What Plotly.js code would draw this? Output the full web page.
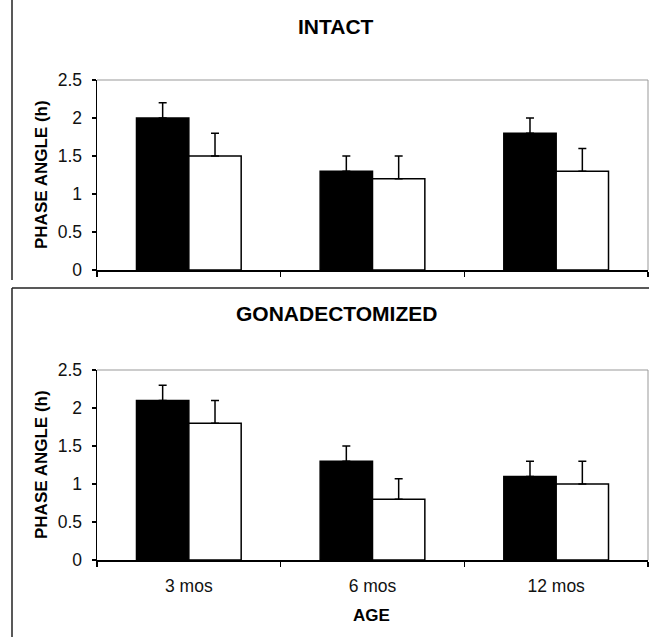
<!DOCTYPE html>
<html>
<head>
<meta charset="utf-8">
<script src="https://cdn.plot.ly/plotly-3.0.1.min.js"></script>
<style>html,body{margin:0;padding:0;background:#fff;}#chart{width:649px;height:637px;}</style>
</head>
<body>
<div id="chart"></div>
<script>
const ages = ['3 mos', '6 mos', '12 mos'];
const yTicks = [0, 0.5, 1, 1.5, 2, 2.5];
const yTickText = ['0', '0.5', '1', '1.5', '2', '2.5'];

const intactBlack = [2.0, 1.3, 1.8];
const intactBlackErr = [0.2, 0.2, 0.2];
const intactWhite = [1.5, 1.2, 1.3];
const intactWhiteErr = [0.3, 0.3, 0.3];

const gdxBlack = [2.1, 1.3, 1.1];
const gdxBlackErr = [0.2, 0.2, 0.2];
const gdxWhite = [1.8, 0.8, 1.0];
const gdxWhiteErr = [0.3, 0.27, 0.3];

const panelTitles = ['INTACT', 'GONADECTOMIZED'];
const yTitle = 'PHASE ANGLE (h)';
const xTitle = 'AGE';

const W = 649, H = 637;
const px = v => v / W;
const py = v => 1 - v / H;

function err(arr) {
  return {type: 'data', symmetric: false, array: arr, arrayminus: arr.map(() => 0),
          color: '#000', thickness: 1.5, width: 4};
}
function barTrace(y, e, fill, xa, ya) {
  return {type: 'bar', x: ages, y: y, xaxis: xa, yaxis: ya,
          marker: {color: fill, line: {color: '#000', width: 1.5}},
          error_y: err(e), showlegend: false, hoverinfo: 'skip'};
}

const data = [
  barTrace(intactBlack, intactBlackErr, '#000', 'x', 'y'),
  barTrace(intactWhite, intactWhiteErr, '#fff', 'x', 'y'),
  barTrace(gdxBlack, gdxBlackErr, '#000', 'x2', 'y2'),
  barTrace(gdxWhite, gdxWhiteErr, '#fff', 'x2', 'y2')
];

const tickFont = {family: '"Liberation Sans Narrow", "Arial Narrow", "Liberation Sans", Arial, sans-serif', size: 17.5, color: '#111'};
const boldFont = {family: '"Liberation Sans", Arial, sans-serif', size: 17, color: '#000'};

function yax(domain, anchor) {
  return {domain: domain, anchor: anchor, range: [0, 2.5], tickmode: 'array', tickvals: yTicks, ticktext: yTickText,
          ticks: 'outside', ticklen: 4, tickwidth: 1.5, tickcolor: '#000', showgrid: false, zeroline: false,
          showline: true, linecolor: '#000', linewidth: 1.5, tickfont: tickFont, ticklabelstandoff: 6, fixedrange: true};
}
function xax(domain, anchor, labels) {
  return {domain: domain, anchor: anchor, type: 'category', tickson: 'boundaries', ticks: 'outside', ticklen: 5,
          tickwidth: 1.5, tickcolor: '#000', showline: true, linecolor: '#000', linewidth: 1.5, showgrid: false,
          showticklabels: labels, tickfont: tickFont, ticklabelstandoff: 9, fixedrange: true};
}

const xd = [px(97), px(648)];
const layout = {
  width: W, height: H,
  margin: {l: 0, r: 0, t: 0, b: 0},
  paper_bgcolor: '#fff', plot_bgcolor: '#fff',
  barmode: 'group', bargap: 0.43, bargroupgap: 0,
  showlegend: false,
  xaxis: xax(xd, 'y', false),
  yaxis: yax([py(270), py(80)], 'x'),
  xaxis2: xax(xd, 'y2', true),
  yaxis2: yax([py(560), py(370)], 'x2'),
  annotations: [
    {text: '<b>' + panelTitles[0] + '</b>', xref: 'paper', yref: 'paper', x: px(336), y: py(26), xanchor: 'center', yanchor: 'middle', showarrow: false,
     font: {family: '"Liberation Sans", Arial, sans-serif', size: 21, color: '#000'}},
    {text: '<b>' + panelTitles[1] + '</b>', xref: 'paper', yref: 'paper', x: px(336), y: py(313), xanchor: 'center', yanchor: 'middle', showarrow: false,
     font: {family: '"Liberation Sans", Arial, sans-serif', size: 21, color: '#000'}},
    {text: '<b>' + yTitle + '</b>', xref: 'paper', yref: 'paper', x: px(41), y: py(175), xanchor: 'center', yanchor: 'middle', textangle: -90, showarrow: false, font: boldFont},
    {text: '<b>' + yTitle + '</b>', xref: 'paper', yref: 'paper', x: px(41), y: py(465), xanchor: 'center', yanchor: 'middle', textangle: -90, showarrow: false, font: boldFont},
    {text: '<b>' + xTitle + '</b>', xref: 'paper', yref: 'paper', x: px(372), y: py(615), xanchor: 'center', yanchor: 'middle', showarrow: false, font: boldFont}
  ],
  shapes: [
    {type: 'line', xref: 'paper', yref: 'paper', x0: px(12), x1: px(12), y0: py(0), y1: py(280), line: {color: '#222', width: 1.5}},
    {type: 'line', xref: 'paper', yref: 'paper', x0: px(12), x1: px(649), y0: py(288), y1: py(288), line: {color: '#222', width: 1.5}},
    {type: 'line', xref: 'paper', yref: 'paper', x0: px(12), x1: px(12), y0: py(288), y1: py(637), line: {color: '#222', width: 1.5}},
    {type: 'line', xref: 'x domain', yref: 'y domain', x0: 0, x1: 1, y0: 1, y1: 1, line: {color: '#999', width: 1}},
    {type: 'line', xref: 'x domain', yref: 'y domain', x0: 1, x1: 1, y0: 0, y1: 1, line: {color: '#999', width: 1}},
    {type: 'line', xref: 'x2 domain', yref: 'y2 domain', x0: 0, x1: 1, y0: 1, y1: 1, line: {color: '#999', width: 1}},
    {type: 'line', xref: 'x2 domain', yref: 'y2 domain', x0: 1, x1: 1, y0: 0, y1: 1, line: {color: '#999', width: 1}}
  ]
};

Plotly.newPlot('chart', data, layout, {displayModeBar: false, staticPlot: true});
</script>
</body>
</html>
